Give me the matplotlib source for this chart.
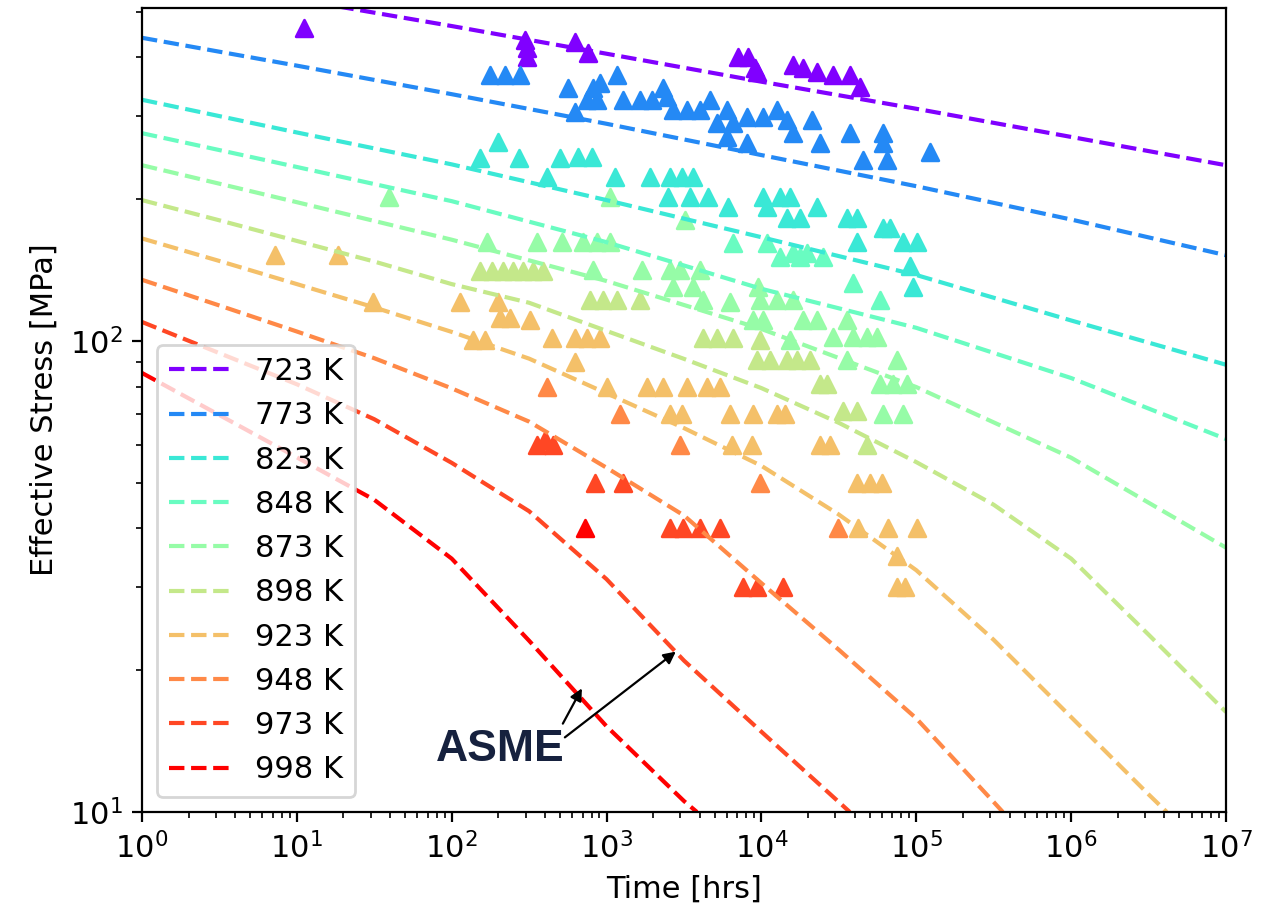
import numpy as np
import matplotlib
matplotlib.use("Agg")
import matplotlib.pyplot as plt

plt.rcParams['font.size'] = 11

# --- Temperatures (K) ---
temps = [723, 773, 823, 848, 873, 898, 923, 948, 973, 998]

# --- Model curves (time [hrs], effective stress [MPa]) ---
dec_t = [1, 10, 100, 1e3, 1e4, 1e5, 1e6, 1e7]
half_t = [1, 3.16, 10, 31.6, 100, 316, 1e3, 3.16e3, 1e4, 3.16e4, 1e5, 3.16e5, 1e6, 3.16e6, 1e7]

curve_t_723 = dec_t
curve_s_723 = [606, 531, 466, 407, 355, 311, 271, 236]
curve_t_773 = dec_t
curve_s_773 = [440, 384, 334, 289, 248, 213, 181, 152]
curve_t_823 = dec_t
curve_s_823 = [325, 277, 237, 199, 166, 138, 110.5, 89]
curve_t_848 = dec_t
curve_s_848 = [276, 234, 198, 162, 129, 106.6, 83.4, 61.9]
curve_t_873 = dec_t
curve_s_873 = [236, 197, 164, 134, 106, 79.8, 56.5, 36.4]
curve_t_898 = half_t
curve_s_898 = [199, 180.3, 163, 147.4, 132, 120.5, 105, 91.6, 79.4, 67, 55.3, 44.9, 34.5, 23.8, 16.3]
curve_t_923 = [1, 3.16, 10, 31.6, 100, 316, 1e3, 3.16e3, 1e4, 3.16e4, 1e5, 3.16e5, 1e6, 3.16e6, 4.14e6]
curve_s_923 = [165, 147.8, 132, 117.8, 104.5, 91.7, 77.4, 65.3, 54.3, 42.8, 32.6, 23.2, 15.9, 10.9, 10]
curve_t_948 = [1, 3.16, 10, 31.6, 100, 316, 1e3, 3.16e3, 1e4, 3.16e4, 1e5, 3.16e5, 3.62e5]
curve_s_948 = [134.8, 118.9, 104.7, 91.9, 79.3, 67.4, 53.8, 42.6, 30.6, 22.1, 15.8, 10.5, 10]
curve_t_973 = [1, 3.16, 10, 31.6, 100, 316, 1e3, 3.16e3, 1e4, 3.16e4, 3.72e4]
curve_s_973 = [109.7, 94.2, 80.9, 68.2, 55.1, 43.5, 31.2, 20.96, 14.8, 10.5, 10]
curve_t_998 = [1, 3.16, 10, 31.6, 100, 316, 1e3, 3.16e3, 3.83e3]
curve_s_998 = [85.5, 69.6, 56.6, 46.0, 34.5, 23.1, 15.2, 10.55, 10]

# --- Rupture data (time [hrs], stress [MPa]) ---
data_t_723 = [11.1, 297, 306, 306, 624, 757, 7043, 8171, 9067, 9339, 15950, 18510, 22790, 28900, 37220, 43180]
data_s_723 = [462, 436, 419, 401, 431, 409, 401, 401, 380, 373, 385, 380, 373, 367, 367, 346]

data_t_773 = [176, 220, 276, 1165, 563, 624, 816, 905, 866, 746, 1274, 1641, 1961, 2310, 2450, 2680,
              3300, 4003, 4645, 5153, 5977, 6538, 8051, 8051, 5977, 10210, 12570, 14590, 15950,
              21160, 23830, 37220, 60780, 60780, 45140, 64500, 122300]
data_s_773 = [367, 367, 367, 367, 344, 306, 344, 353, 325, 325, 325, 325, 325, 344, 330, 309,
              309, 309, 325, 290, 309, 290, 299, 263, 271, 299, 309, 295, 276,
              295, 263, 276, 276, 263, 242, 242, 252]

data_t_823 = [199, 152, 272, 412, 499, 653, 804, 1131, 1903, 2563, 3063, 3606, 2488, 3450, 4508,
              6067, 10210, 13150, 15250, 10835, 14590, 17700, 22790, 35590, 41300, 60780, 67440,
              41300, 81810, 100700, 90780, 94930]
data_s_823 = [265, 244, 244, 223, 245, 246, 246, 223, 223, 223, 223, 223, 202, 202, 202,
              192, 202, 202, 202, 192, 182, 182, 192, 182, 182, 174, 174,
              162, 162, 162, 144, 130]

data_t_848 = [6538, 10835, 13150, 15950, 17700, 19640, 24920, 38900, 58130]
data_s_848 = [161.5, 161.5, 151, 154, 151, 154, 151, 133, 122]

data_t_873 = [39.3, 169, 355, 514, 703, 866, 1050, 1050, 3202, 816, 1690, 2563, 2973, 4003, 2680,
              3606, 4185, 6252, 9479, 9766, 12570, 15950, 8800, 10210, 18510, 22790, 35590,
              28900, 38900, 47900, 55590, 15250, 35590, 74830, 58130, 70530, 86840, 60780, 81810]
data_s_873 = [202, 162, 162, 162, 162, 162, 162, 202, 181, 141.5, 141.5, 141.5, 141.5, 141.5, 130,
              130, 122, 121, 130, 122, 122, 122, 111, 111, 111, 111, 111,
              102, 102, 102, 102, 100.5, 91, 91, 81, 81, 81, 70, 70]

data_t_898 = [152, 182, 214, 248, 288, 334, 388, 780, 947, 1165, 1641, 4185, 5153, 6538, 9766,
              9339, 11330, 14590, 16930, 20540, 23830, 26440, 33540, 41300, 47900]
data_s_898 = [141, 141, 141, 141, 141, 141, 141, 122, 122, 122, 122, 101.5, 101.5, 101.5, 100.5,
              91, 91, 91, 91, 91, 81, 81, 71, 71, 60]

data_t_923 = [7.22, 18.4, 31, 113, 199, 205, 238, 320, 137, 164, 444, 624, 746, 905, 624,
              1004, 1820, 2310, 3300, 4441, 5387, 2563, 3063, 6252, 8800, 12570, 14160,
              6441, 8670, 23830, 27640, 41300, 50100, 59890, 41910, 65460, 100700, 74830,
              74830, 84280]
data_s_923 = [152, 152, 121, 121, 121, 112, 112, 111, 100.5, 100.5, 101.5, 101.5, 101.5, 101.5, 90,
              80, 80, 80, 80, 80, 80, 70, 70, 70, 70, 70, 70,
              60, 60, 60, 60, 50, 50, 50, 40, 40, 40, 35,
              30, 30]

data_t_948 = [412, 1219, 2973, 9766, 31140]
data_s_948 = [80, 70, 60, 50, 40]

data_t_973 = [355, 400, 450, 840, 1274, 2563, 3109, 4003, 5387, 7586, 9339, 13750]
data_s_973 = [60, 61.6, 60, 50, 50, 40, 40, 40, 40, 30, 30, 30]

data_t_998 = [724]
data_s_998 = [40]

curves_t = [curve_t_723, curve_t_773, curve_t_823, curve_t_848, curve_t_873,
            curve_t_898, curve_t_923, curve_t_948, curve_t_973, curve_t_998]
curves_s = [curve_s_723, curve_s_773, curve_s_823, curve_s_848, curve_s_873,
            curve_s_898, curve_s_923, curve_s_948, curve_s_973, curve_s_998]
pts_t = [data_t_723, data_t_773, data_t_823, data_t_848, data_t_873,
         data_t_898, data_t_923, data_t_948, data_t_973, data_t_998]
pts_s = [data_s_723, data_s_773, data_s_823, data_s_848, data_s_873,
         data_s_898, data_s_923, data_s_948, data_s_973, data_s_998]

# --- Plot ---
fig = plt.figure(figsize=(6.355, 4.59), dpi=200)
ax = fig.add_axes([0.1117, 0.1155, 0.8529, 0.8758])

cmap = plt.cm.rainbow
norm = plt.Normalize(min(temps), max(temps))

for T, ct, cs, pt, ps in zip(temps, curves_t, curves_s, pts_t, pts_s):
    c = cmap(norm(T))
    ax.scatter(pt, ps, marker='^', color=c)
    ax.plot(ct, cs, '--', color=c, label=f"{T} K")

ax.set_xscale('log')
ax.set_yscale('log')
ax.set_xlim(1, 1e7)
ax.set_ylim(10, 509)
ax.set_xlabel("Time [hrs]")
ax.set_ylabel("Effective Stress [MPa]")
ax.legend(loc='lower left')

# ASME annotation
txt_kw = dict(fontsize=16, fontweight='bold', color='#16213e', family='Liberation Sans',
              ha='center', va='center')
ax.text(205, 13.6, "ASME", **txt_kw)
arrow_kw = dict(arrowstyle='-|>', color='black', lw=0.8, mutation_scale=9,
                shrinkA=0, shrinkB=0)
ax.annotate("", xy=(693, 18.3), xytext=(522, 15.4), arrowprops=arrow_kw)
ax.annotate("", xy=(2802, 21.9), xytext=(538, 14.4), arrowprops=arrow_kw)

fig.savefig("out.png", dpi=200)
